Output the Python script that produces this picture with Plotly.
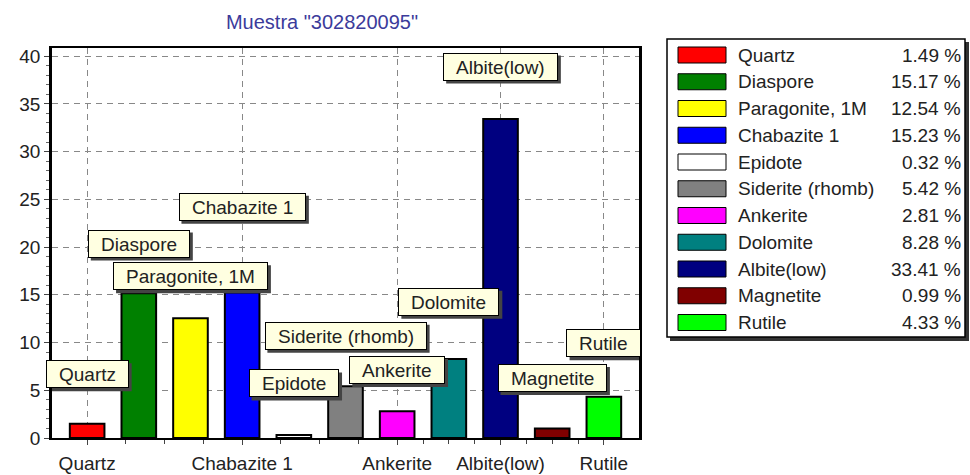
import plotly.graph_objects as go

minerals = ["Quartz", "Diaspore", "Paragonite, 1M", "Chabazite 1", "Epidote",
            "Siderite (rhomb)", "Ankerite", "Dolomite", "Albite(low)", "Magnetite", "Rutile"]
percent = [1.49, 15.17, 12.54, 15.23, 0.32, 5.42, 2.81, 8.28, 33.41, 0.99, 4.33]
colors = ["#ff0000", "#008000", "#ffff00", "#0000ff", "#ffffff", "#808080",
          "#ff00ff", "#008080", "#000080", "#800000", "#00ff00"]
labelled_ticks = [0, 3, 6, 8, 10]

# how far each mark label sits above its bar (data units)
label_lift = [5.2, 5.2, 4.4, 9.0, 5.4, 5.3, 4.3, 6.0, 5.5, 5.3, 5.6]

FONT = "Liberation Sans, Arial, sans-serif"
FS = 19
L, R, T, B = 52, 639, 48, 438  # plot area in pixels
XR = (-0.68, 10.68)
YR = (0, 40.85)

# rough Arial advance widths (1/1000 em) to size the label boxes
ARIAL = {" ": 278, "(": 333, ")": 333, ",": 278, "1": 556, "A": 667, "C": 722,
         "D": 722, "E": 667, "M": 833, "P": 667, "Q": 778, "R": 722, "S": 667}
ARIAL.update({c: 556 for c in "abdeghnopu"})
ARIAL.update({"c": 500, "i": 222, "k": 500, "l": 222, "m": 833, "r": 333,
              "s": 500, "t": 278, "w": 722, "z": 500})


def text_w(s):
    return sum(ARIAL.get(c, 556) for c in s) * FS / 1000


def px_x(px):
    return (px - L) / (R - L)


def px_y(py):
    return (B - py) / (B - T)


x_per_px = (XR[1] - XR[0]) / (R - L)
y_per_px = (YR[1] - YR[0]) / (B - T)

xs = list(range(len(minerals)))

fig = go.Figure(go.Bar(
    x=xs, y=percent, width=0.67,
    marker=dict(color=colors, line=dict(color="black", width=2)),
    hovertext=minerals, showlegend=False,
))

annotations = []
shapes = []
for i, name in enumerate(minerals):
    w = text_w(name) + 22
    h = 24
    ly = percent[i] + label_lift[i]
    bw, bh = w + 4, h + 4  # outer size incl. pad + border
    shapes.append(dict(
        type="rect", xref="x", yref="y", layer="above",
        x0=i + (-bw / 2 + 3) * x_per_px, x1=i + (bw / 2 + 3) * x_per_px,
        y0=ly - (bh / 2 + 3) * y_per_px, y1=ly + (bh / 2 - 3) * y_per_px,
        fillcolor="#444", line=dict(width=0),
    ))
    annotations.append(dict(
        x=i, y=ly, xref="x", yref="y", text=name, width=w, height=h,
        showarrow=False, bgcolor="#ffffe1", bordercolor="black", borderwidth=1,
        borderpad=1, font=dict(family=FONT, size=FS, color="#222"),
    ))

# hand-drawn legend box on the right
shapes += [
    dict(type="rect", xref="paper", yref="paper", x0=px_x(670), x1=px_x(969),
         y0=px_y(341), y1=px_y(42), fillcolor="#333", line=dict(width=0)),
    dict(type="rect", xref="paper", yref="paper", x0=px_x(667), x1=px_x(965),
         y0=px_y(337), y1=px_y(39), fillcolor="white", line=dict(color="black", width=1.5)),
]
for i, name in enumerate(minerals):
    cy = 55 + 26.75 * i
    shapes.append(dict(type="rect", xref="paper", yref="paper",
                       x0=px_x(678), x1=px_x(726), y0=px_y(cy + 8), y1=px_y(cy - 8),
                       fillcolor=colors[i], line=dict(color="black", width=1)))
    annotations.append(dict(x=px_x(736), y=px_y(cy), xref="paper", yref="paper",
                            text=name, showarrow=False, xanchor="left", yanchor="middle",
                            font=dict(family=FONT, size=FS, color="#222")))
    annotations.append(dict(x=px_x(963), y=px_y(cy), xref="paper", yref="paper",
                            text=f"{percent[i]:.2f} %", showarrow=False, xanchor="right",
                            yanchor="middle", font=dict(family=FONT, size=FS, color="#222")))

fig.update_layout(
    width=970, height=475,
    margin=dict(l=L, r=970 - R, t=T, b=475 - B),
    paper_bgcolor="white", plot_bgcolor="white",
    font=dict(family=FONT, size=FS, color="#222"),
    title=dict(text='Muestra "302820095"', xref="container", yref="container",
               x=322 / 970, y=1 - 22 / 475, xanchor="center", yanchor="middle",
               font=dict(family=FONT, size=20, color="#3b3b9b")),
    annotations=annotations, shapes=shapes,
)
fig.update_xaxes(
    range=list(XR), tickvals=labelled_ticks, automargin=False,
    ticktext=[minerals[i] for i in labelled_ticks],
    showline=True, linecolor="black", linewidth=2, mirror=True,
    ticks="outside", ticklen=5, tickcolor="#444", ticklabelstandoff=2,
    showgrid=True, gridcolor="#888", griddash="6px,5px", gridwidth=1, zeroline=False,
    minor=dict(tickvals=[0.75, 1.5, 2.25, 3.75, 4.5, 5.25, 6.5, 7, 7.5, 8.5, 9, 9.5],
               ticks="outside", ticklen=4, tickcolor="#444", showgrid=False),
)
fig.update_yaxes(
    range=list(YR), dtick=5, tick0=0, automargin=False,
    showline=True, linecolor="black", linewidth=2.5, mirror=True,
    ticks="outside", ticklen=5, tickcolor="#444",
    showgrid=True, gridcolor="#888", griddash="6px,5px", gridwidth=1, zeroline=False,
    minor=dict(dtick=1, ticks="outside", ticklen=3, tickcolor="#666", showgrid=False),
)

# page body has a default 8px margin; drop it so the chart sits at the window corner
fig.write_html("out.html", config={"displayModeBar": False},
               post_script="document.body.style.margin='0';")
